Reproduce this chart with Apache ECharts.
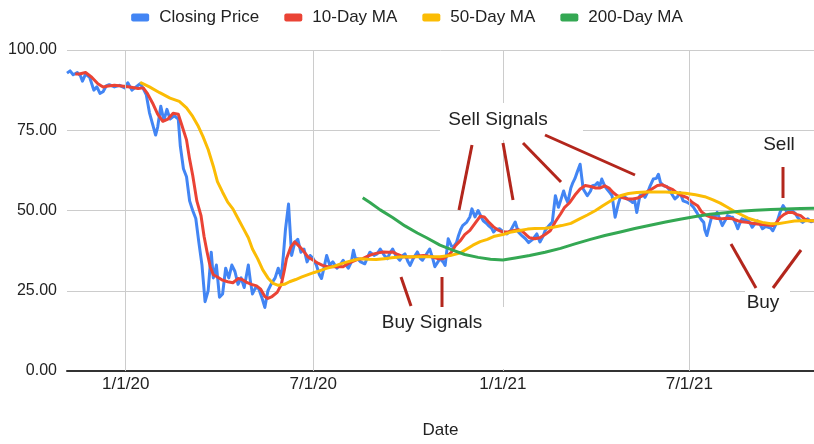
<!DOCTYPE html>
<html>
<head>
<meta charset="utf-8">
<script src="https://cdn.jsdelivr.net/npm/echarts@6/dist/echarts.min.js"></script>
<style>
html,body{margin:0;padding:0;background:#fff;}
#chart{width:814px;height:444px;}
</style>
</head>
<body>
<div id="chart"></div>
<script>
// ---- data ----
const seriesNames = ['Closing Price', '10-Day MA', '50-Day MA', '200-Day MA'];
const xTickDates = ['2020-01-01', '2020-07-01', '2021-01-01', '2021-07-01'];
const xRange = ['2019-11-05', '2021-10-30'];

const closePrice = [
['2019-11-05',92.8],['2019-11-08',93.5],['2019-11-11',92.3],['2019-11-15',93.0],['2019-11-18',92.0],['2019-11-20',90.3],['2019-11-23',92.5],['2019-11-27',91.5],['2019-12-01',87.5],['2019-12-04',88.5],['2019-12-07',86.5],['2019-12-10',87.0],['2019-12-13',88.8],['2019-12-16',89.2],['2019-12-21',88.5],['2019-12-26',89.0],['2019-12-31',88.2],
['2020-01-03',89.8],['2020-01-07',87.5],['2020-01-11',88.5],['2020-01-15',89.5],['2020-01-18',88.0],['2020-01-21',86.0],['2020-01-24',80.5],['2020-01-27',77.0],['2020-01-30',73.5],['2020-02-01',76.0],['2020-02-04',82.5],['2020-02-07',78.0],['2020-02-10',81.5],['2020-02-13',78.5],['2020-02-17',79.5],['2020-02-21',78.5],['2020-02-23',70.0],['2020-02-26',63.0],['2020-02-29',60.5],
['2020-03-03',53.0],['2020-03-06',50.0],['2020-03-09',47.5],['2020-03-12',40.0],['2020-03-15',33.0],['2020-03-18',21.6],['2020-03-21',25.0],['2020-03-24',37.0],['2020-03-26',29.0],['2020-03-29',33.0],['2020-04-01',23.0],['2020-04-04',24.0],['2020-04-07',32.0],['2020-04-10',29.0],['2020-04-13',33.0],['2020-04-16',31.0],['2020-04-19',27.0],['2020-04-22',29.0],['2020-04-25',26.0],['2020-04-29',33.0],
['2020-05-01',28.0],['2020-05-03',24.0],['2020-05-06',26.0],['2020-05-09',25.7],['2020-05-12',23.0],['2020-05-15',19.8],['2020-05-18',25.0],['2020-05-21',27.0],['2020-05-25',29.0],['2020-05-28',32.0],['2020-05-31',29.0],['2020-06-02',36.0],['2020-06-04',44.0],['2020-06-07',52.0],['2020-06-10',36.0],['2020-06-13',40.0],['2020-06-16',41.0],['2020-06-19',37.0],['2020-06-22',38.0],['2020-06-25',34.0],['2020-06-28',36.0],
['2020-07-01',35.0],['2020-07-04',33.0],['2020-07-07',30.0],['2020-07-09',28.8],['2020-07-12',33.0],['2020-07-14',36.0],['2020-07-17',33.0],['2020-07-20',34.0],['2020-07-24',32.0],['2020-07-27',33.0],['2020-07-30',34.5],['2020-08-02',33.0],['2020-08-04',32.0],['2020-08-07',34.0],['2020-08-09',37.6],['2020-08-11',35.0],['2020-08-13',35.0],['2020-08-16',34.0],['2020-08-20',33.4],['2020-08-23',35.6],['2020-08-25',37.0],['2020-08-29',36.0],
['2020-09-01',36.5],['2020-09-04',38.0],['2020-09-08',36.0],['2020-09-11',35.0],['2020-09-13',36.5],['2020-09-16',38.0],['2020-09-19',36.0],['2020-09-23',34.5],['2020-09-26',36.0],['2020-09-28',36.5],['2020-10-01',34.0],['2020-10-03',32.9],['2020-10-06',35.0],['2020-10-10',37.1],['2020-10-13',35.0],['2020-10-15',34.5],['2020-10-18',36.0],['2020-10-22',38.0],['2020-10-25',35.0],['2020-10-27',32.5],['2020-10-30',34.0],
['2020-11-01',35.0],['2020-11-04',34.0],['2020-11-06',32.9],['2020-11-09',41.2],['2020-11-12',39.0],['2020-11-14',38.7],['2020-11-17',40.0],['2020-11-19',42.2],['2020-11-21',44.0],['2020-11-23',45.3],['2020-11-27',46.4],['2020-11-30',48.0],['2020-12-02',50.5],['2020-12-05',48.0],['2020-12-08',50.0],['2020-12-11',48.0],['2020-12-13',46.8],['2020-12-16',46.0],['2020-12-18',45.3],['2020-12-21',44.5],['2020-12-23',43.3],['2020-12-25',44.0],['2020-12-29',44.3],
['2021-01-01',43.5],['2021-01-05',42.7],['2021-01-09',44.0],['2021-01-13',46.4],['2021-01-16',43.3],['2021-01-20',42.0],['2021-01-23',41.2],['2021-01-26',40.0],['2021-01-27',39.6],['2021-01-30',41.0],['2021-02-03',42.7],['2021-02-06',40.2],['2021-02-09',42.0],['2021-02-11',43.7],['2021-02-14',45.0],['2021-02-18',46.4],['2021-02-21',54.6],['2021-02-24',51.0],['2021-02-27',54.0],
['2021-03-01',56.1],['2021-03-03',54.0],['2021-03-05',52.5],['2021-03-08',57.0],['2021-03-10',58.7],['2021-03-12',60.0],['2021-03-14',61.8],['2021-03-17',64.4],['2021-03-20',56.7],['2021-03-24',54.6],['2021-03-27',56.0],['2021-03-29',57.7],['2021-04-01',58.0],['2021-04-03',58.7],['2021-04-05',57.5],['2021-04-07',59.8],['2021-04-10',57.5],['2021-04-12',56.7],['2021-04-15',55.5],['2021-04-17',54.6],['2021-04-20',47.9],['2021-04-23',52.0],['2021-04-25',54.1],['2021-04-28',54.5],
['2021-05-02',53.6],['2021-05-05',53.0],['2021-05-07',52.5],['2021-05-09',53.0],['2021-05-11',49.4],['2021-05-14',54.6],['2021-05-17',55.0],['2021-05-19',54.1],['2021-05-22',56.0],['2021-05-24',57.7],['2021-05-27',59.8],['2021-05-30',60.0],['2021-06-01',61.3],['2021-06-03',58.7],['2021-06-06',57.7],['2021-06-09',57.5],['2021-06-11',56.7],['2021-06-12',57.2],['2021-06-15',54.6],['2021-06-17',53.6],['2021-06-20',54.5],['2021-06-22',55.6],['2021-06-25',53.0],['2021-06-29',52.5],
['2021-07-02',52.0],['2021-07-05',51.0],['2021-07-08',49.5],['2021-07-10',48.4],['2021-07-13',47.0],['2021-07-15',46.3],['2021-07-16',44.0],['2021-07-18',42.2],['2021-07-21',46.0],['2021-07-23',48.4],['2021-07-26',48.0],['2021-07-28',49.4],['2021-07-31',47.0],['2021-08-02',45.3],['2021-08-05',47.0],['2021-08-07',48.4],['2021-08-10',48.0],['2021-08-12',47.9],['2021-08-15',46.0],['2021-08-17',44.3],['2021-08-19',46.0],['2021-08-21',47.4],['2021-08-24',47.0],['2021-08-26',47.4],['2021-08-29',46.0],['2021-08-31',44.8],
['2021-09-03',46.0],['2021-09-05',46.8],['2021-09-08',45.5],['2021-09-10',44.3],['2021-09-13',45.0],['2021-09-15',44.8],['2021-09-18',44.5],['2021-09-20',43.7],['2021-09-22',45.0],['2021-09-24',46.3],['2021-09-27',49.4],['2021-09-30',51.5],['2021-10-02',50.5],['2021-10-04',49.4],['2021-10-07',50.0],['2021-10-09',49.9],['2021-10-12',49.0],['2021-10-14',47.9],['2021-10-17',46.8],['2021-10-19',46.3],['2021-10-22',47.0],['2021-10-24',47.4],['2021-10-27',46.5],['2021-10-30',46.8]
];

const ma10 = [
['2019-11-13',92.5],['2019-11-17',92.5],['2019-11-23',93.0],['2019-11-29',91.5],['2019-12-05',89.5],['2019-12-10',88.5],['2019-12-15',88.8],['2019-12-21',89.0],['2019-12-28',88.8],
['2020-01-05',88.5],['2020-01-13',88.0],['2020-01-18',88.2],['2020-01-22',86.5],['2020-01-27',83.5],['2020-02-01',80.0],['2020-02-06',77.8],['2020-02-11',78.5],['2020-02-16',80.3],['2020-02-21',80.0],['2020-02-24',77.0],['2020-02-29',72.0],
['2020-03-03',66.0],['2020-03-06',61.0],['2020-03-10',53.0],['2020-03-14',48.5],['2020-03-17',42.0],['2020-03-20',37.0],['2020-03-23',32.5],['2020-03-26',30.0],['2020-03-30',29.3],['2020-04-04',28.3],['2020-04-09',27.8],['2020-04-14',27.5],['2020-04-19',28.8],['2020-04-23',28.5],['2020-04-28',27.5],
['2020-05-02',27.0],['2020-05-07',26.5],['2020-05-11',25.5],['2020-05-15',23.2],['2020-05-18',22.6],['2020-05-22',23.2],['2020-05-27',24.5],['2020-05-31',27.0],['2020-06-03',31.5],['2020-06-05',35.0],['2020-06-09',38.5],['2020-06-13',40.2],['2020-06-17',39.0],['2020-06-21',37.6],['2020-06-26',35.5],
['2020-07-01',34.5],['2020-07-06',33.5],['2020-07-10',32.9],['2020-07-15',32.5],['2020-07-20',32.5],['2020-07-25',32.5],['2020-07-30',32.5],['2020-08-04',33.5],['2020-08-09',34.2],['2020-08-13',34.8],['2020-08-18',35.0],['2020-08-23',35.8],['2020-08-28',36.4],
['2020-09-02',36.8],['2020-09-07',37.1],['2020-09-12',37.0],['2020-09-16',37.1],['2020-09-21',36.3],['2020-09-26',35.6],['2020-10-01',35.5],['2020-10-06',35.5],['2020-10-11',35.8],['2020-10-16',36.0],['2020-10-20',35.8],['2020-10-25',35.5],['2020-10-30',35.0],
['2020-11-04',35.0],['2020-11-08',35.8],['2020-11-12',37.0],['2020-11-16',39.0],['2020-11-21',40.7],['2020-11-25',42.5],['2020-11-30',43.8],['2020-12-05',46.0],['2020-12-10',48.2],['2020-12-14',48.0],['2020-12-18',46.5],['2020-12-23',44.9],['2020-12-27',44.0],
['2021-01-01',43.3],['2021-01-06',43.3],['2021-01-11',43.7],['2021-01-16',44.0],['2021-01-20',43.5],['2021-01-24',42.3],['2021-01-27',41.5],['2021-02-01',41.2],['2021-02-06',41.5],['2021-02-11',42.5],['2021-02-16',43.7],['2021-02-21',46.5],['2021-02-26',48.9],
['2021-03-02',51.0],['2021-03-07',52.5],['2021-03-12',54.8],['2021-03-17',56.7],['2021-03-22',57.8],['2021-03-27',57.5],['2021-04-01',57.0],['2021-04-05',57.0],['2021-04-10',57.7],['2021-04-14',57.0],['2021-04-18',55.6],['2021-04-22',54.6],['2021-04-27',54.0],
['2021-05-02',53.6],['2021-05-07',53.6],['2021-05-11',53.8],['2021-05-16',54.5],['2021-05-21',55.8],['2021-05-26',56.8],['2021-05-31',57.8],['2021-06-05',58.0],['2021-06-10',57.2],['2021-06-15',56.5],['2021-06-19',55.5],['2021-06-24',54.6],['2021-06-29',54.0],
['2021-07-04',52.5],['2021-07-09',51.5],['2021-07-13',49.5],['2021-07-18',48.4],['2021-07-23',47.8],['2021-07-28',47.5],['2021-08-02',47.4],['2021-08-07',47.6],['2021-08-12',47.4],['2021-08-17',46.8],['2021-08-21',46.5],['2021-08-26',46.3],['2021-08-31',46.0],
['2021-09-05',45.8],['2021-09-10',45.6],['2021-09-15',45.5],['2021-09-20',45.3],['2021-09-23',46.0],['2021-09-27',47.8],['2021-10-01',48.8],['2021-10-05',49.4],['2021-10-09',49.4],['2021-10-13',48.8],['2021-10-17',48.4],['2021-10-21',47.3],['2021-10-25',46.8],['2021-10-30',46.8]
];

const ma50 = [
['2020-01-15',89.9],['2020-01-24',88.5],['2020-02-03',86.7],['2020-02-13',85.0],['2020-02-22',84.0],['2020-02-29',82.0],['2020-03-06',79.3],['2020-03-11',76.5],['2020-03-16',73.0],['2020-03-21',69.0],['2020-03-26',63.8],['2020-03-30',59.0],
['2020-04-04',55.7],['2020-04-09',52.6],['2020-04-14',50.5],['2020-04-19',47.5],['2020-04-24',44.5],['2020-04-29',41.5],['2020-05-03',38.0],['2020-05-08',35.0],['2020-05-13',31.5],['2020-05-18',29.0],['2020-05-23',27.3],['2020-05-28',26.7],
['2020-06-03',27.0],['2020-06-08',27.8],['2020-06-14',28.5],['2020-06-20',29.3],['2020-06-26',30.0],['2020-07-02',30.7],['2020-07-07',31.2],['2020-07-13',31.9],['2020-07-20',32.5],['2020-07-27',33.3],['2020-08-03',34.0],['2020-08-10',34.6],['2020-08-16',35.0],['2020-08-23',34.8],['2020-08-31',34.7],
['2020-09-08',35.0],['2020-09-15',35.3],['2020-09-23',35.5],['2020-10-03',35.6],['2020-10-13',35.6],['2020-10-22',35.6],['2020-11-01',35.6],['2020-11-11',36.0],['2020-11-21',36.8],['2020-11-27',38.0],['2020-12-03',39.2],['2020-12-10',40.3],['2020-12-17',41.0],['2020-12-24',42.0],
['2021-01-01',42.5],['2021-01-08',43.2],['2021-01-16',43.7],['2021-01-25',44.2],['2021-02-01',44.4],['2021-02-11',44.5],['2021-02-19',44.8],['2021-02-27',45.3],['2021-03-08',46.0],['2021-03-16',47.3],['2021-03-24',48.6],['2021-04-01',50.0],['2021-04-08',51.5],['2021-04-17',53.3],['2021-04-25',54.6],
['2021-05-03',55.3],['2021-05-11',55.6],['2021-05-20',55.8],['2021-05-29',55.8],['2021-06-08',55.8],['2021-06-17',55.6],['2021-06-27',55.4],['2021-07-07',54.9],['2021-07-16',54.3],['2021-07-24',53.3],['2021-07-31',52.3],['2021-08-07',51.0],['2021-08-14',49.7],['2021-08-21',48.6],['2021-08-27',47.6],
['2021-09-03',46.9],['2021-09-10',46.3],['2021-09-18',45.9],['2021-09-25',45.9],['2021-10-03',46.3],['2021-10-11',46.7],['2021-10-19',46.8],['2021-10-30',46.8]
];

const ma200 = [
['2020-08-18',54.0],['2020-08-25',52.5],['2020-09-04',50.2],['2020-09-16',47.8],['2020-09-28',45.2],['2020-10-10',43.0],['2020-10-19',41.5],['2020-11-01',39.2],['2020-11-14',37.6],['2020-11-25',36.3],['2020-12-08',35.4],['2020-12-20',34.8],
['2021-01-01',34.6],['2021-01-13',35.2],['2021-01-27',36.0],['2021-02-11',37.0],['2021-02-26',38.2],['2021-03-12',39.6],['2021-03-27',41.0],['2021-04-10',42.2],['2021-04-25',43.3],['2021-05-09',44.4],['2021-05-24',45.4],['2021-06-08',46.4],['2021-06-22',47.3],
['2021-07-07',48.1],['2021-07-21',48.8],['2021-08-05',49.3],['2021-08-19',49.8],['2021-09-03',50.1],['2021-09-18',50.3],['2021-10-02',50.5],['2021-10-17',50.6],['2021-10-30',50.7]
];

// ---- styling ----
const colors = ['#4285F4', '#EA4335', '#FBBC04', '#34A853'];
const annoColor = '#b3261c';
const textColor = '#222222';
const FONT = '"Liberation Sans", Arial, Helvetica, sans-serif';

function ts(s) { const p = s.split('-').map(Number); return new Date(p[0], p[1] - 1, p[2]).getTime(); }
function fmtDate(v) { const d = new Date(v); return (d.getMonth() + 1) + '/' + d.getDate() + '/' + String(d.getFullYear()).slice(2); }

const chart = echarts.init(document.getElementById('chart'), null, { renderer: 'canvas' });

const annoLines = [
  [[472,145],[459,210]], [[503,143],[513,200]], [[523,143],[561,182]], [[545,135],[635,175]],
  [[401,277],[411,306]], [[442,277],[442,307]],
  [[783,167],[783,198]],
  [[731,244],[756,288]], [[801,250],[773,288]]
];
const annoBoxes = [[440,103,143,37],[370,307,136,62],[745,290,45,28]];
const annoTexts = [['Sell Signals',498,120],['Buy Signals',432,323],['Sell',779,145],['Buy',763,303]];

const graphics = [];
annoBoxes.forEach(b => graphics.push({ type:'rect', z:100, silent:true, shape:{x:b[0],y:b[1],width:b[2],height:b[3]}, style:{fill:'#ffffff'} }));
annoLines.forEach(l => graphics.push({ type:'line', z:101, silent:true, shape:{x1:l[0][0],y1:l[0][1],x2:l[1][0],y2:l[1][1]}, style:{stroke:annoColor,lineWidth:3} }));
annoTexts.forEach(t => graphics.push({ type:'text', z:102, silent:true, x:t[1], y:t[2], style:{text:t[0],fill:textColor,font:'19px ' + FONT,textAlign:'center',textVerticalAlign:'middle'} }));

const dataSets = [closePrice, ma10, ma50, ma200];
const widths = [3, 3, 3, 3];

const series = dataSets.map((d, i) => ({
  name: seriesNames[i], type: 'line', data: d, showSymbol: false, symbol: 'none',
  lineStyle: { width: widths[i], color: colors[i], join: 'round' }, itemStyle: { color: colors[i] },
  emphasis: { disabled: true }, z: 3 + i
}));
// vertical date gridlines with their labels underneath
series.unshift({
  name: 'dateGrid', type: 'line', data: [], z: 1, silent: true,
  markLine: {
    silent: true, symbol: ['none', 'none'], animation: false,
    lineStyle: { color: '#cccccc', width: 1, type: 'solid' },
    label: { show: true, position: 'start', distance: 5, formatter: p => fmtDate(p.value), fontSize: 17, color: textColor, fontFamily: FONT },
    emphasis: { disabled: true },
    data: xTickDates.map(d => ({ xAxis: ts(d) }))
  }
});

chart.setOption({
  animation: false,
  backgroundColor: '#ffffff',
  textStyle: { fontFamily: FONT },
  legend: {
    top: 4, left: 'center', icon: 'roundRect', itemWidth: 18, itemHeight: 8, itemGap: 25,
    textStyle: { fontSize: 17, color: textColor, fontFamily: FONT, padding: [0,0,0,5] },
    data: seriesNames.map((n, i) => ({ name: n, itemStyle: { color: colors[i] } }))
  },
  grid: { left: 67, right: 0, top: 50, bottom: 71, containLabel: false },
  xAxis: {
    type: 'time', min: ts(xRange[0]), max: ts(xRange[1]),
    name: 'Date', nameLocation: 'middle', nameGap: 51,
    nameTextStyle: { fontSize: 17, color: textColor, fontFamily: FONT },
    axisLine: { show: true, lineStyle: { color: '#333333', width: 2 } },
    axisTick: { show: false },
    axisLabel: { show: false },
    splitLine: { show: false }
  },
  yAxis: {
    type: 'value', min: 0, max: 100, interval: 25,
    axisLine: { show: false }, axisTick: { show: false },
    axisLabel: { formatter: v => v.toFixed(2), fontSize: 16, color: textColor, margin: 10, fontFamily: FONT },
    splitLine: { show: true, lineStyle: { color: '#cccccc', width: 1 } }
  },
  series: series,
  graphic: graphics
});
</script>
</body>
</html>
